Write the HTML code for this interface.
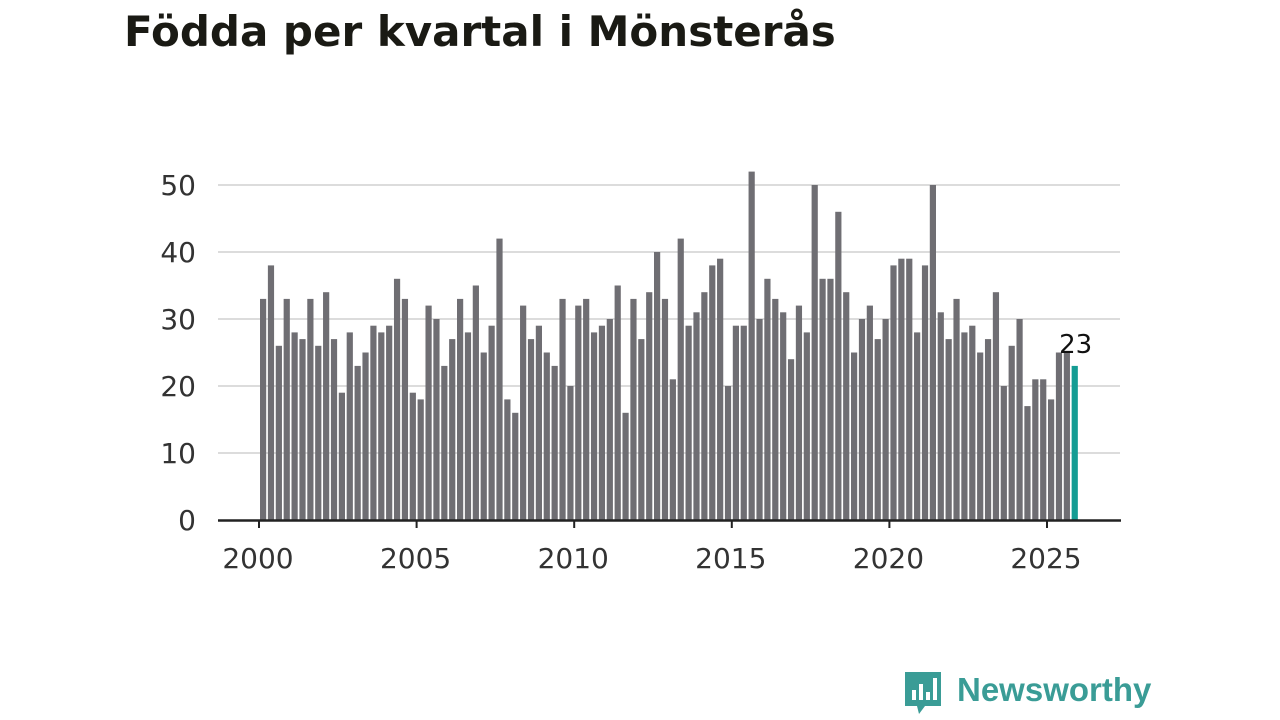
<!DOCTYPE html>
<html><head><meta charset="utf-8"><style>
body{margin:0;background:#fff;width:1280px;height:720px;overflow:hidden;font-family:"Liberation Sans","DejaVu Sans",sans-serif}
h1{position:absolute;left:124px;top:7px;margin:0;font-size:42px;font-weight:bold;color:#1a1a14;font-family:"DejaVu Sans","Liberation Sans",sans-serif;letter-spacing:0px}
</style></head><body>
<h1>Födda per kvartal i Mönsterås</h1>
<svg id="c" width="1280" height="720" style="position:absolute;left:0;top:0"></svg>
<div style="position:absolute;left:903px;top:670px;height:48px;display:flex;align-items:center">
<svg width="40" height="48"><path d="M2 2h36v34H22l-6 8-2-8H2z" fill="#3a9c96"/><rect x="9" y="20" width="4" height="10" fill="#fff"/><rect x="16" y="14" width="4" height="16" fill="#fff"/><rect x="23" y="22" width="4" height="8" fill="#fff"/><rect x="30" y="8" width="4" height="22" fill="#fff"/></svg>
<span style="font-size:33px;font-weight:bold;color:#3a9c96;margin-left:14px;margin-top:-8px">Newsworthy</span></div>
<script>
const values=[33,38,26,33,28,27,33,26,34,27,19,28,23,25,29,28,29,36,33,19,18,32,30,23,27,33,28,35,25,29,42,18,16,32,27,29,25,23,33,20,32,33,28,29,30,35,16,33,27,34,40,33,21,42,29,31,34,38,39,20,29,29,52,30,36,33,31,24,32,28,50,36,36,46,34,25,30,32,27,30,38,39,39,28,38,50,31,27,33,28,29,25,27,34,20,26,30,17,21,21,18,25,25,23];
const startYear=2000;
const yTicks=[0,10,20,30,40,50];
const xTicks=[2000,2005,2010,2015,2020,2025];
const svg=document.getElementById('c');const NS='http://www.w3.org/2000/svg';
const F='DejaVu Sans, Liberation Sans, sans-serif';
const y=v=>520-v*6.7;
const x=t=>259+(t-2000)*31.52;
function mk(tag,a){const e=document.createElementNS(NS,tag);for(const k in a)e.setAttribute(k,a[k]);svg.appendChild(e);return e;}
yTicks.forEach(v=>{
 if(v>0){const g=mk('line',{x1:218,x2:1120,y1:y(v),y2:y(v),stroke:'#dcdcdc','stroke-width':2});
 
 }
 const t=mk('text',{x:196,y:y(v)+10,'text-anchor':'end','font-size':28,fill:'#333','font-family':F});t.textContent=v;
 
 
});
values.forEach((v,i)=>{
 const cx=x(startYear+i/4)+4;
 const r=mk('rect',{x:cx-3,y:y(v),width:6.2,height:520-y(v),fill:i==values.length-1?'#149c93':'#6f6e73'});
 
 
 if(i==values.length-1){const t=mk('text',{x:cx+1,y:y(v)-13,'text-anchor':'middle','font-size':26,fill:'#111','font-family':F});t.textContent=v;
 
 }
});
const ax=mk('line',{x1:218,x2:1121,y1:520.5,y2:520.5,stroke:'#222','stroke-width':2.5});


xTicks.forEach(yr=>{
 const tk=mk('line',{x1:x(yr),x2:x(yr),y1:520,y2:528,stroke:'#222','stroke-width':2});
 
 
 const t=mk('text',{x:x(yr)-1,y:568,'text-anchor':'middle','font-size':28,fill:'#333','font-family':F});t.textContent=yr;
 
 
});
</script>
</body></html>
